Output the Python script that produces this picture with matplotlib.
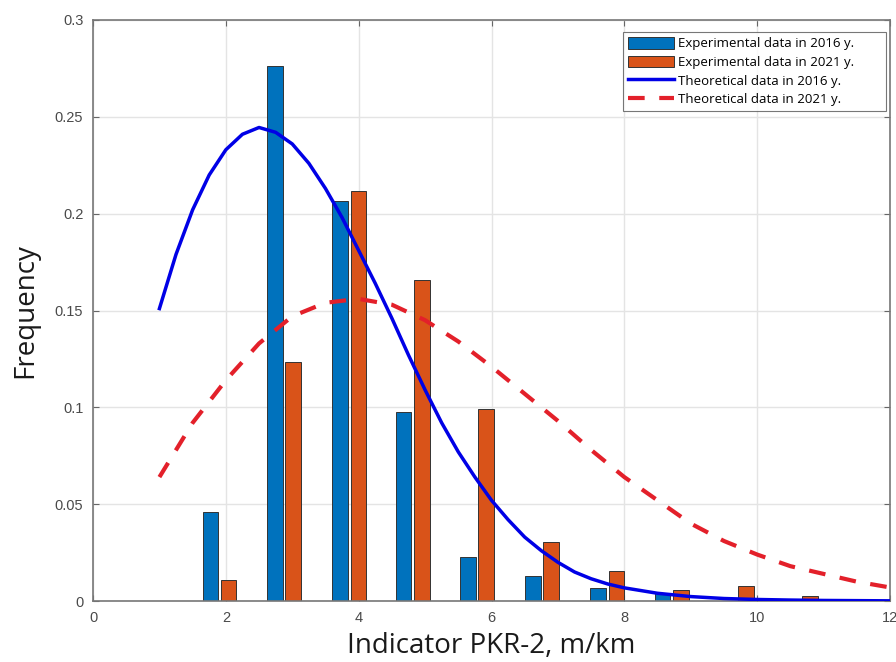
import numpy as np
import matplotlib
matplotlib.use('Agg')
from matplotlib import pyplot as plt

plt.rc('font', family='Liberation Sans', size=10)

# histogram bin centres (m/km) and frequencies
bins = [1.905, 2.875, 3.86, 4.815, 5.78, 6.76, 7.745, 8.715, 9.69, 10.66]
freq_2016 = [0.046, 0.2765, 0.2064, 0.0975, 0.0228, 0.0128, 0.0068, 0.0044, 0.0, 0.0]
freq_2021 = [0.011, 0.1236, 0.2116, 0.166, 0.0992, 0.0305, 0.0155, 0.0056, 0.0076, 0.0025]

# theoretical curves, read point by point
x_2016 = [1.0, 1.25, 1.5, 1.75, 2.0, 2.25, 2.5, 2.75, 3.0, 3.25, 3.5, 3.75, 4.0, 4.25,
          4.5, 4.75, 5.0, 5.25, 5.5, 5.75, 6.0, 6.25, 6.5, 6.75, 7.0, 7.25, 7.5, 7.75, 8.0,
          8.5, 9.0, 9.5, 10.0, 10.5, 11.0, 12.0]
y_2016 = [0.151, 0.179, 0.202, 0.220, 0.233, 0.241, 0.2445, 0.242, 0.236, 0.226, 0.213, 0.198,
          0.181, 0.164, 0.146, 0.127, 0.109, 0.092, 0.077, 0.064, 0.052, 0.042, 0.033, 0.026,
          0.020, 0.015, 0.0115, 0.0088, 0.0068, 0.0040, 0.0023, 0.0013, 0.0008, 0.0005,
          0.0003, 0.0001]
x_2021 = [1.0, 1.5, 2.0, 2.5, 3.0, 3.5, 4.0, 4.5, 5.0, 5.5, 6.0, 6.5, 7.0, 7.5, 8.0, 8.5,
          9.0, 9.5, 10.0, 10.5, 11.0, 11.5, 12.0]
y_2021 = [0.064, 0.092, 0.114, 0.133, 0.147, 0.154, 0.156, 0.153, 0.145, 0.134, 0.121, 0.107,
          0.093, 0.078, 0.064, 0.052, 0.040, 0.031, 0.024, 0.018, 0.014, 0.010, 0.007]

fig = plt.figure(figsize=(8.96, 6.62), dpi=100)
ax = fig.add_axes([0.1038, 0.0921, 0.8895, 0.8777])

b = np.array(bins)
h1 = ax.bar(b - 0.138, freq_2016, width=0.235, color='#0072BD', edgecolor='#333333', linewidth=0.7,
            label='Experimental data in 2016 y.', zorder=2)
h2 = ax.bar(b + 0.138, freq_2021, width=0.235, color='#D95319', edgecolor='#333333', linewidth=0.7,
            label='Experimental data in 2021 y.', zorder=2)
h3, = ax.plot(x_2016, y_2016, '-', color='#0000E6', linewidth=2.5, solid_joinstyle='round',
              label='Theoretical data in 2016 y.', zorder=3)
h4, = ax.plot(x_2021, y_2021, '--', color='#E3202A', linewidth=3, dashes=(4, 3.5),
              label='Theoretical data in 2021 y.', zorder=3)

ax.set_xlim(0, 12)
ax.set_ylim(0, 0.3)
ax.set_xticks([0, 2, 4, 6, 8, 10, 12])
ax.set_yticks([0, 0.05, 0.1, 0.15, 0.2, 0.25, 0.3])
ax.set_yticklabels(['0', '0.05', '0.1', '0.15', '0.2', '0.25', '0.3'])
ax.tick_params(direction='in', top=True, right=True, length=4, colors='#666666',
               labelcolor='#4a4a4a', labelsize=10.5, pad=7)
for s in ax.spines.values():
    s.set_color('#777777')
    s.set_linewidth(1.2)
ax.grid(color='#e4e4e4', linewidth=1, zorder=0)
ax.set_axisbelow(True)

ax.set_xlabel('Indicator PKR-2, m/km', family='Open Sans', fontsize=20, color='#1a1a1a', labelpad=5)
ax.set_ylabel('Frequency', family='Open Sans', fontsize=20, color='#1a1a1a', labelpad=11)

leg = ax.legend([h1, h2, h3, h4], [h.get_label() for h in (h1, h2, h3, h4)],
                loc='upper left', bbox_to_anchor=(0.665, 0.831, 0.33, 0.148), mode='expand',
                prop={'family': 'Open Sans', 'size': 9.5},
                frameon=True, fancybox=False, edgecolor='#555555', handlelength=3.5, handleheight=1.0,
                labelspacing=0.4, borderpad=0.35, handletextpad=0.35, borderaxespad=0.0)
leg.get_frame().set_linewidth(0.8)

fig.savefig('out.png', dpi=100)
